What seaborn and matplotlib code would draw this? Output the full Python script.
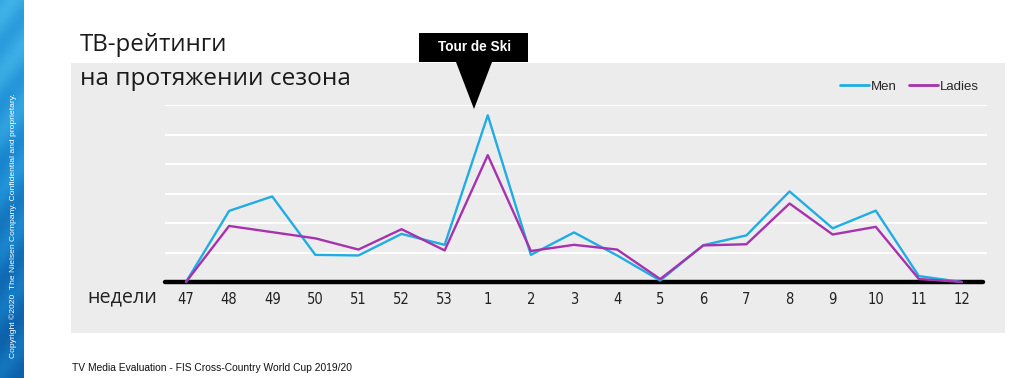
import numpy as np
import pandas as pd
import matplotlib
matplotlib.use("Agg")
import matplotlib.pyplot as plt
from matplotlib.patches import Rectangle, Polygon
import seaborn as sns

weeks = ["47", "48", "49", "50", "51", "52", "53", "1", "2", "3",
         "4", "5", "6", "7", "8", "9", "10", "11", "12"]
men = [0, 2.41, 2.90, 0.92, 0.90, 1.63, 1.26, 5.65, 0.92, 1.68,
       0.90, 0.05, 1.25, 1.58, 3.07, 1.82, 2.42, 0.20, 0]
ladies = [0, 1.90, 1.69, 1.48, 1.10, 1.79, 1.07, 4.30, 1.05, 1.26,
          1.10, 0.10, 1.24, 1.28, 2.66, 1.61, 1.87, 0.10, 0]

df = pd.DataFrame({"pos": list(range(len(weeks))) * 2,
                   "val": men + ladies,
                   "grp": ["Men"] * len(weeks) + ["Ladies"] * len(weeks)})

sns.set_style("white")
plt.rcParams["font.family"] = ["Open Sans", "DejaVu Sans"]

W, H = 1024, 378
fig = plt.figure(figsize=(W / 100, H / 100), dpi=100)
fig.patch.set_facecolor("white")

# gray panel (behind the axes)
fig.patches.append(Rectangle((71 / W, 1 - 333 / H), (1005 - 71) / W, (333 - 63) / H,
                             transform=fig.transFigure, facecolor="#ececed",
                             edgecolor="none", zorder=-5))

# blue side strip
sax = fig.add_axes([0, 0, 24 / W, 1])
yy = np.linspace(0, 1, 300)[:, None]
xx = np.linspace(0, 1, 20)[None, :]
grad = 0.55 + 0.25 * np.cos(yy * 3.2) + 0.08 * np.sin((yy * 40 + xx * 3))
sax.imshow(grad, aspect="auto", cmap=sns.blend_palette(["#0b5fa8", "#1e8fd6", "#4cc0ee"], as_cmap=True),
           extent=[0, 1, 0, 1], origin="upper", vmin=0.2, vmax=1.0)
sax.axis("off")
fig.text(13 / W, 1 - 226 / H, "Copyright \u00a92020  The Nielsen Company. Confidential and proprietary.",
         rotation=90, ha="center", va="center", color="white", fontsize=6.1,
         family=["Liberation Sans", "DejaVu Sans"])

ax = fig.add_axes([165 / W, 1 - 282 / H, 822 / W, (282 - 105) / H])
ax.set_facecolor("none")
sns.lineplot(data=df, x="pos", y="val", hue="grp", palette={"Men": "#1fade4", "Ladies": "#a632ad"},
             linewidth=1.7, ax=ax, clip_on=False, legend=True, zorder=3)

ax.set_xlim(-0.487, 18.58)
ax.set_ylim(0, 6)
for g in range(1, 7):
    ax.axhline(g, color="white", linewidth=1.5, zorder=1)
ax.axhline(0, color="black", linewidth=3.2, zorder=2, xmax=(983 - 165) / 822, clip_on=False)
for s in ax.spines.values():
    s.set_visible(False)
ax.set_xticks(range(len(weeks)))
ax.set_xticklabels(weeks, fontsize=10.5, color="#222222", fontstretch="condensed",
                   family=["DejaVu Sans", "Liberation Sans"])
ax.tick_params(axis="x", length=0, pad=7)
ax.set_yticks([])
ax.set_xlabel("")
ax.set_ylabel("")

leg = ax.legend(loc="center left", bbox_to_anchor=(828 / W, 1 - 87 / H), bbox_transform=fig.transFigure,
                ncol=2, frameon=False, handlelength=2.2, handletextpad=0.15, columnspacing=0.9,
                prop={"family": ["Liberation Sans", "DejaVu Sans"], "size": 9.5})
for line in leg.get_lines():
    line.set_linewidth(2)

fig.text(87 / W, 1 - 297 / H, "недели", fontsize=14.2, color="#222222", va="center", ha="left")
fig.text(80 / W, 1 - 51 / H, "ТВ-рейтинги", fontsize=17.3, color="#1a1a1a", va="baseline", ha="left")
fig.text(80 / W, 1 - 85 / H, "на протяжении сезона", fontsize=17.6, color="#1a1a1a", va="baseline",
         ha="left")

# Tour de Ski callout
fig.patches.append(Polygon([(419 / W, 1 - 33 / H), (528 / W, 1 - 33 / H), (528 / W, 1 - 62 / H),
                            (492 / W, 1 - 62 / H), (474 / W, 1 - 109 / H), (456 / W, 1 - 62 / H),
                            (419 / W, 1 - 62 / H)], closed=True, transform=fig.transFigure,
                           facecolor="black", edgecolor="none", zorder=5))
fig.text(475 / W, 1 - 47 / H, "Tour de Ski", color="white", fontsize=9.8, fontweight="bold",
         ha="center", va="center", family=["Liberation Sans", "DejaVu Sans"], zorder=6)

fig.text(72 / W, 1 - 368 / H, "TV Media Evaluation - FIS Cross-Country World Cup 2019/20",
         fontsize=7.4, color="#111111", va="center", ha="left", family=["Liberation Sans", "DejaVu Sans"])

fig.savefig("out.png", dpi=100, facecolor="white")
